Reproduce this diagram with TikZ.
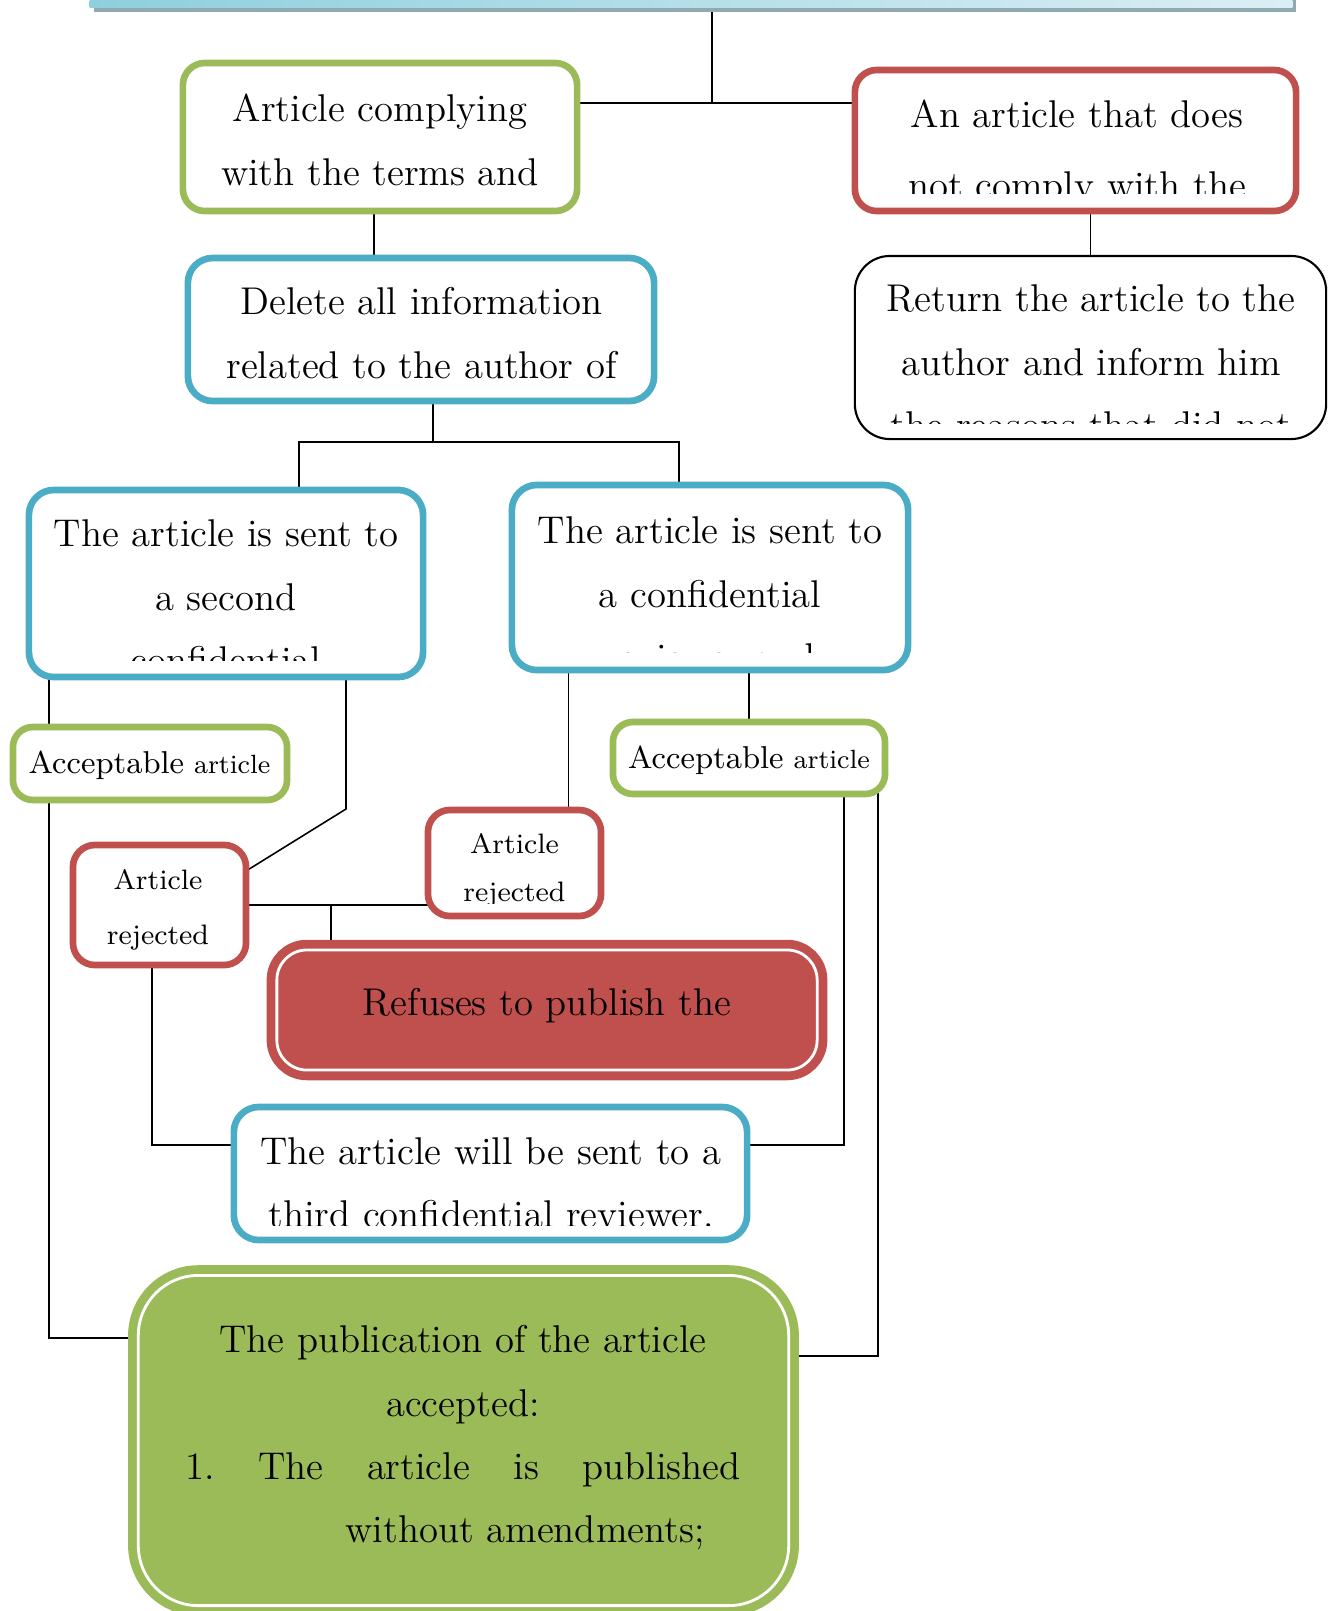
\documentclass[tikz,border=0pt]{standalone}
\usepackage{fontspec}
\usetikzlibrary{positioning,backgrounds}
\definecolor{okgreen}{HTML}{9BBB59}
\definecolor{nored}{HTML}{C0504D}
\definecolor{revblue}{HTML}{4BACC6}
\definecolor{headleft}{HTML}{8ECFDE}
\definecolor{headright}{HTML}{DCEEF4}
\definecolor{headshade}{HTML}{8FA9B3}

\begin{document}
\begin{tikzpicture}[
    x=0.01cm, y=-0.01cm,
    every node/.style={inner sep=0pt, outer sep=0pt},
    box/.style={
        draw=#1, fill=white, rounded corners=0.22cm,
        line width=1.9pt
    },
    bigbox/.style={
        draw=#1, fill=#1, double=white, double distance=0.8pt,
        line width=2.5pt
    },
    txt/.style={align=center, font=\fontsize{11}{18}\selectfont},
    tinytxt/.style={align=center, font=\fontsize{8}{15.5}\selectfont},
    link/.style={line width=0.45pt},
]
\useasboundingbox (0,0) rectangle (1330,1611);

% === Head bar (cut at the top) ===
\fill[headshade] (94,-40) rectangle (1296,12);
\node[minimum width=12.02cm, minimum height=0.5cm,
    left color=headleft, right color=headright] (head) at (691,-18) {};

% === First level ===
\node[box=okgreen, minimum width=3.94cm, minimum height=1.48cm] (comply) at (380,137) {};
\node[txt] (comply-t) at (380,140) {Article complying\\with the terms and};

\node[box=nored, minimum width=4.41cm, minimum height=1.41cm] (notcomply) at (1075.5,140.5) {};
\begin{scope}
    \clip (852,60) rectangle (1299,193);
    \node[txt, font=\fontsize{11}{20}\selectfont] (notcomply-t) at (1077,153)
        {An article that does\\not comply with the};
\end{scope}

% === Second level ===
\node[box=revblue, rounded corners=0.25cm, minimum width=4.66cm, minimum height=1.43cm] (delete) at (421,329.5) {};
\node[txt] (delete-t) at (421.5,333) {Delete all information\\related to the author of};

\node[draw, fill=white, rounded corners=0.35cm, line width=0.6pt,
    minimum width=4.71cm, minimum height=1.83cm] (return) at (1090.5,347.5) {};
\begin{scope}
    \clip (856,257) rectangle (1325,423);
    \node[txt] (return-t) at (1091,362)
        {Return the article to the\\author and inform him\\the reasons that did not};
\end{scope}

% === Reviewers ===
\node[box=revblue, rounded corners=0.25cm, minimum width=3.94cm, minimum height=1.87cm] (second) at (226,583.5) {};
\begin{scope}
    \clip (30,490) rectangle (422,660);
    \node[txt] (second-t) at (226,597) {The article is sent to\\a second\\confidential};
\end{scope}

\node[box=revblue, rounded corners=0.25cm, minimum width=3.96cm, minimum height=1.85cm] (first) at (710,577.5) {};
\begin{scope}
    \clip (513,485) rectangle (907,652);
    \node[txt] (first-t) at (710,594) {The article is sent to\\a confidential\\reviewer and};
\end{scope}

% === Decisions ===
\node[box=okgreen, rounded corners=0.2cm, minimum width=2.74cm, minimum height=0.73cm] (acceptL) at (150,763.5) {};
\node[tinytxt] (acceptL-t) at (149.5,765)
    {{\fontsize{9}{10}\selectfont Acceptable} {\fontsize{7.5}{10}\selectfont article}};

\node[box=okgreen, rounded corners=0.2cm, minimum width=2.72cm, minimum height=0.72cm] (acceptR) at (749,758) {};
\node[tinytxt] (acceptR-t) at (749,760)
    {{\fontsize{9}{10}\selectfont Acceptable} {\fontsize{7.5}{10}\selectfont article}};

\node[box=nored, minimum width=1.73cm, minimum height=1.2cm] (rejL) at (159.5,905) {};
\node[tinytxt] (rejL-t) at (158,910) {Article\\rejected};

\node[box=nored, minimum width=1.73cm, minimum height=1.06cm] (rejM) at (514.5,863) {};
\begin{scope}
    \clip (428,810) rectangle (601,903);
    \node[tinytxt, font=\fontsize{8}{13.7}\selectfont] (rejM-t) at (514.5,870) {Article\\rejected};
\end{scope}

% === Outcomes ===
\node[bigbox=nored, rounded corners=0.3cm, minimum width=5.4cm, minimum height=1.2cm] (refuse) at (547,1010) {};
\node[txt] (refuse-t) at (547,1006) {Refuses to publish the};

\node[box=revblue, rounded corners=0.25cm, minimum width=5.13cm, minimum height=1.33cm] (third) at (490.5,1173.5) {};
\begin{scope}
    \clip (235,1107) rectangle (746,1225);
    \node[txt] (third-t) at (491,1183) {The article will be sent to a\\third confidential reviewer.};
\end{scope}

\node[bigbox=okgreen, rounded corners=0.6cm, minimum width=6.5cm, minimum height=3.3cm] (publish) at (463.5,1440.5) {};
\node[txt] (publish-t) at (463,1438) {The publication of the article\\accepted:\\
    \makebox[5.55cm]{1.\hfill The\hfill article\hfill is\hfill published}\\
    \makebox[5.55cm][r]{without amendments;\hspace{0.36cm}}};

% === Connectors ===
\begin{scope}[on background layer]
\coordinate (topjoin) at (712,103);
\coordinate (split) at (433,442);
\coordinate (lsplit) at (299,442);
\coordinate (rsplit) at (679,442);
\coordinate (lrail) at (49,1338);
\coordinate (bend) at (346,809);
\coordinate (merge) at (331,904);
\coordinate (lthird) at (152,1145);
\coordinate (rthird) at (844,1145);
\coordinate (rpub) at (878,1356);

\draw[link] (head.center -| topjoin) -- (topjoin);
\draw[link] (comply.center |- topjoin) -- (notcomply.center |- topjoin);
\draw[link] ([xshift=-0.06cm]comply.center) -- ([xshift=-0.06cm]comply.center |- delete.center);
\draw[link] (return.center |- notcomply.center) -- (return.center);

\draw[link] (split |- delete.center) -- (split);
\draw[link] (lsplit |- second.center) -- (lsplit) -- (rsplit) -- (rsplit |- first.center);

\draw[link] (lrail |- second.center) -- (lrail |- acceptL.center);
\draw[link] (lrail |- acceptL.center) -- (lrail) -- (publish.center |- lrail);
\draw[link] (bend |- second.center) -- (bend) -- ([yshift=0.34cm]rejL.east);

\draw[link] (rejL.center) -- (rejM.center |- rejL.center);
\draw[link] (merge) -- (merge |- refuse.center);
\draw[link] ([xshift=0.54cm]rejM.center) -- ([xshift=0.54cm]rejM.center |- first.center);
\draw[link] (acceptR.center) -- (acceptR.center |- first.center);

\draw[link] (lthird |- rejL.center) -- (lthird) -- (third.center |- lthird);
\draw[link] (rthird |- acceptR.center) -- (rthird) -- (third.center |- rthird);
\draw[link] (rpub |- acceptR.center) -- (rpub) -- (publish.center |- rpub);
\end{scope}

\end{tikzpicture}
\end{document}
